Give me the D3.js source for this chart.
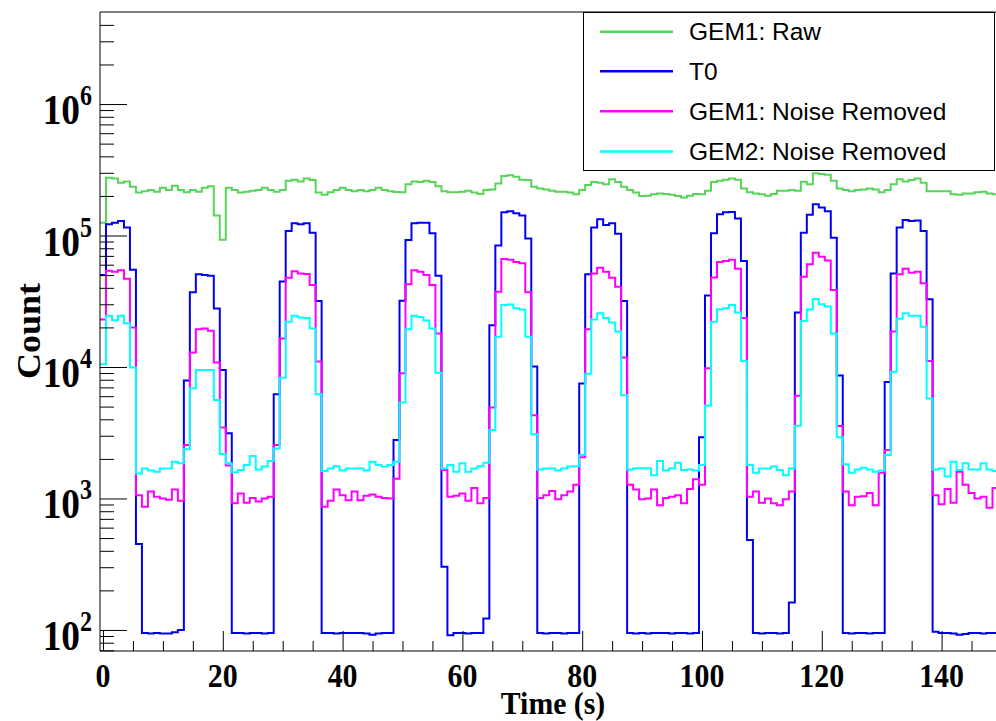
<!DOCTYPE html>
<html>
<head>
<meta charset="utf-8">
<script src="https://cdn.jsdelivr.net/npm/d3@7"></script>
<style>
  body { margin: 0; background: #fff; }
  svg { display: block; }
</style>
</head>
<body>
<div id="chart"></div>
<script>
// histogram bins: 1 s wide, centred on 0..149
const binCenters = d3.range(0, 150);

// GEM1: Raw
const gem1Raw = [
  125000, 275000, 272000, 252000, 258000, 235000, 212000, 217000, 222000, 215000,
  231000, 222000, 239000, 222000, 213000, 222000, 215000, 231000, 237000, 142000,
  93000, 231000, 222000, 212000, 215000, 219000, 222000, 231000, 222000, 215000,
  222000, 261000, 266000, 258000, 272000, 264000, 212000, 204000, 213000, 222000,
  231000, 222000, 217000, 222000, 217000, 222000, 231000, 222000, 217000, 214000,
  213000, 245000, 258000, 255000, 261000, 255000, 237000, 217000, 213000, 213000,
  215000, 219000, 212000, 207000, 222000, 224000, 249000, 283000, 287000, 280000,
  266000, 264000, 235000, 228000, 224000, 219000, 215000, 215000, 212000, 206000,
  222000, 242000, 255000, 252000, 245000, 268000, 255000, 235000, 222000, 212000,
  200000, 201000, 206000, 209000, 207000, 204000, 200000, 195000, 201000, 207000,
  206000, 219000, 255000, 261000, 266000, 272000, 266000, 228000, 213000, 209000,
  206000, 201000, 207000, 219000, 219000, 222000, 219000, 256000, 245000, 297000,
  294000, 290000, 261000, 228000, 222000, 217000, 222000, 224000, 228000, 224000,
  213000, 222000, 245000, 268000, 258000, 264000, 272000, 252000, 217000, 217000,
  217000, 217000, 206000, 204000, 209000, 209000, 213000, 215000, 209000, 206000
];

// T0
const t0 = [
  50000, 122000, 125000, 129000, 115000, 55000, 450, 95, 94, 95,
  94, 94, 96, 100, 7900, 37000, 50700, 50000, 49500, 27900,
  9500, 3130, 95, 95, 94, 95, 95, 94, 95, 6200,
  44600, 108000, 124000, 122000, 124000, 105000, 31800, 95, 95, 94,
  95, 95, 95, 95, 94, 92, 94, 95, 95, 2790,
  31900, 92500, 124000, 125000, 125000, 104000, 49500, 303, 91, 95,
  95, 94, 95, 95, 122, 20800, 83800, 150000, 153000, 148000,
  142000, 95000, 10100, 95, 94, 95, 95, 94, 95, 95,
  7500, 50700, 115000, 133000, 120000, 124000, 103000, 31800, 95, 94,
  95, 94, 95, 95, 95, 94, 95, 95, 94, 95,
  2920, 35000, 104000, 145000, 150000, 151000, 135000, 64000, 483, 95,
  94, 95, 95, 94, 95, 162, 26000, 105000, 144000, 173000,
  163000, 153000, 96000, 8600, 95, 94, 95, 95, 94, 95,
  95, 7700, 51500, 115000, 131000, 129000, 130000, 108000, 32700, 97,
  95, 95, 94, 92, 93, 95, 95, 94, 95, 95
];

// GEM1: Noise Removed
const gem1Clean = [
  23000, 54000, 53000, 54500, 47000, 20000, 1060, 867, 1130, 1030,
  1000, 976, 1170, 960, 2550, 12900, 19400, 19600, 18900, 10800,
  3460, 1780, 918, 1090, 930, 1010, 950, 1000, 1030, 2550,
  16500, 47700, 53500, 51500, 51000, 42000, 11000, 867, 960, 1170,
  1060, 970, 1130, 970, 1050, 1070, 1030, 1010, 1000, 1410,
  8960, 42600, 54500, 53000, 50000, 42000, 18000, 1650, 1030, 1050,
  1090, 960, 1200, 918, 1010, 4930, 37400, 66200, 65500, 63000,
  61400, 37000, 4300, 1010, 1060, 1140, 985, 1060, 1130, 1270,
  2060, 19400, 51500, 56800, 53000, 47700, 40800, 11800, 1270, 1170,
  985, 1000, 1170, 890, 1010, 1030, 1060, 918, 1180, 1400,
  1270, 9800, 48000, 63000, 64000, 65500, 56000, 23600, 1030, 1130,
  930, 1000, 918, 890, 985, 1130, 6050, 48500, 60500, 74000,
  69000, 64500, 38500, 3560, 1130, 890, 1030, 1040, 1100, 890,
  1570, 2340, 18600, 50700, 56000, 52000, 53000, 43300, 11100, 1060,
  905, 1180, 930, 1600, 1270, 1100, 1000, 1030, 850, 1200
];

// GEM2: Noise Removed
const gem2Clean = [
  10500, 24500, 22700, 24500, 21500, 9900, 1550, 1690, 1630, 1600,
  1690, 1690, 1900, 1850, 2370, 6900, 9500, 9500, 9500, 5600,
  2180, 1850, 1580, 1650, 1800, 2100, 1660, 1750, 1930, 2400,
  8300, 22100, 24500, 23800, 23600, 19600, 6200, 1620, 1690, 1760,
  1630, 1690, 1690, 1690, 1630, 1900, 1800, 1750, 1800, 1900,
  5360, 19400, 24500, 24000, 22600, 19600, 9060, 1690, 1800, 1600,
  1850, 1600, 1690, 1760, 1870, 3320, 17000, 29600, 29900, 28000,
  27400, 17000, 3080, 1660, 1690, 1690, 1630, 1690, 1750, 1760,
  2140, 8900, 23000, 25600, 23600, 21800, 18600, 6100, 1660, 1700,
  1700, 1700, 1500, 1930, 1630, 1700, 1870, 1650, 1660, 1630,
  1800, 5100, 22100, 27500, 28000, 29600, 26000, 11100, 1800, 1570,
  1690, 1690, 1750, 1650, 1500, 1690, 3580, 22400, 27400, 32900,
  30000, 28800, 18000, 2920, 1820, 1570, 1660, 1710, 1660, 1600,
  1630, 2140, 9200, 23300, 25600, 24500, 24500, 20200, 5760, 1660,
  1690, 1470, 1900, 1650, 1850, 1660, 1660, 1850, 1660, 1620
];

const seriesNames = ["GEM1: Raw", "T0", "GEM1: Noise Removed", "GEM2: Noise Removed"];
const seriesColors = ["#58d458", "#0000f0", "#ff00ff", "#00ffff"];

const xMajorTicks = [0, 20, 40, 60, 80, 100, 120, 140];
const xMinorTicks = [5, 10, 15, 25, 30, 35, 45, 50, 55, 65, 70, 75, 85, 90, 95, 105, 110, 115, 125, 130, 135, 145];
const yDecades = [1e2, 1e3, 1e4, 1e5, 1e6];
const yExponents = ["2", "3", "4", "5", "6"];
const yMinorTicks = [70, 80, 90]
  .concat(...[1e2, 1e3, 1e4, 1e5, 1e6].map(d => [2, 3, 4, 5, 6, 7, 8, 9].map(m => m * d)))
  .filter(v => v < 4.9e6);

const W = 996, H = 721;
const frame = {left: 100, right: 998.5, top: 12, bottom: 651};

const svg = d3.select("#chart")
  .append("svg")
    .attr("width", W)
    .attr("height", H);

const x = d3.scaleLinear()
  .domain([-0.5, 149.5])
  .range([frame.left, frame.right]);

const y = d3.scaleLog()
  .domain([Math.pow(10, 1.84), Math.pow(10, 6.70)])
  .range([frame.bottom, frame.top]);

const serif = "'Liberation Serif', 'Times New Roman', serif";
const sans = "'Liberation Sans', Arial, Helvetica, sans-serif";

// histograms drawn as steps over bin edges
const step = d3.line()
  .x(d => x(d[0]))
  .y(d => y(d[1]))
  .curve(d3.curveStepAfter);

[gem1Raw, t0, gem1Clean, gem2Clean].forEach((vals, k) => {
  const pts = binCenters.map((c, i) => [c - 0.5, vals[i]]);
  pts.push([binCenters[binCenters.length - 1] + 0.5, vals[vals.length - 1]]);
  svg.append("path")
    .datum(pts)
    .attr("fill", "none")
    .attr("stroke", seriesColors[k])
    .attr("stroke-width", 2)
    .attr("d", step);
});

// frame
svg.append("path")
  .attr("fill", "none")
  .attr("stroke", "#000")
  .attr("stroke-width", 1)
  .attr("d", `M${frame.left},${frame.top}H${frame.right}V${frame.bottom}H${frame.left}Z`);

// X axis ticks (pointing inward)
svg.append("g")
  .attr("transform", `translate(0,${frame.bottom})`)
  .call(d3.axisBottom(x).tickValues(xMajorTicks).tickSize(-20).tickFormat(""))
  .call(g => g.select(".domain").remove());
svg.append("g")
  .attr("transform", `translate(0,${frame.bottom})`)
  .call(d3.axisBottom(x).tickValues(xMinorTicks).tickSize(-10).tickFormat(""))
  .call(g => g.select(".domain").remove());

// Y axis ticks
svg.append("g")
  .attr("transform", `translate(${frame.left},0)`)
  .call(d3.axisLeft(y).tickValues(yDecades).tickSize(-27).tickFormat(""))
  .call(g => g.select(".domain").remove());
svg.append("g")
  .attr("transform", `translate(${frame.left},0)`)
  .call(d3.axisLeft(y).tickValues(yMinorTicks).tickSize(-14).tickFormat(""))
  .call(g => g.select(".domain").remove());

svg.selectAll(".tick line").attr("stroke", "#000");

// X tick labels
svg.append("g")
  .selectAll("text")
  .data(xMajorTicks)
  .join("text")
    .attr("transform", d => `translate(${x(d)},687) scale(0.88,1)`)
    .attr("text-anchor", "middle")
    .attr("font-family", serif)
    .attr("font-weight", "bold")
    .attr("font-size", 34)
    .text(d => d);

// Y tick labels: 10^n
const ylab = svg.append("g")
  .selectAll("g")
  .data(yDecades)
  .join("g");
ylab.append("text")
  .attr("transform", d => `translate(80,${y(d) + 20}) scale(0.89,1)`)
  .attr("text-anchor", "end")
  .attr("font-family", serif)
  .attr("font-weight", "bold")
  .attr("font-size", 42)
  .text("10");
ylab.append("text")
  .attr("transform", d => `translate(80,${y(d) + 1}) scale(0.8,1)`)
  .attr("text-anchor", "start")
  .attr("font-family", serif)
  .attr("font-weight", "bold")
  .attr("font-size", 30)
  .text((d, i) => yExponents[i]);

// axis titles
svg.append("text")
  .attr("transform", "translate(553,714) scale(0.93,1)")
  .attr("text-anchor", "middle")
  .attr("font-family", serif)
  .attr("font-weight", "bold")
  .attr("font-size", 32)
  .text("Time (s)");

svg.append("text")
  .attr("transform", "translate(40,331) scale(0.92,1) rotate(-90)")
  .attr("text-anchor", "middle")
  .attr("font-family", serif)
  .attr("font-weight", "bold")
  .attr("font-size", 36)
  .text("Count");

// legend
const legend = svg.append("g");
legend.append("rect")
  .attr("x", 583.5)
  .attr("y", 12.5)
  .attr("width", 411)
  .attr("height", 158)
  .attr("fill", "#fff")
  .attr("stroke", "#000")
  .attr("stroke-width", 1);

const rowY = [31.7, 71.3, 111.3, 151.5];
const rows = legend.selectAll("g.row")
  .data(seriesNames)
  .join("g")
    .attr("class", "row")
    .attr("transform", (d, i) => `translate(0,${rowY[i]})`);
rows.append("line")
  .attr("x1", 600)
  .attr("x2", 673)
  .attr("stroke", (d, i) => seriesColors[i])
  .attr("stroke-width", 2.5);
rows.append("text")
  .attr("x", 689)
  .attr("y", 8.5)
  .attr("font-family", sans)
  .attr("font-size", 24.5)
  .attr("fill", "#000")
  .text(d => d);
</script>
</body>
</html>
